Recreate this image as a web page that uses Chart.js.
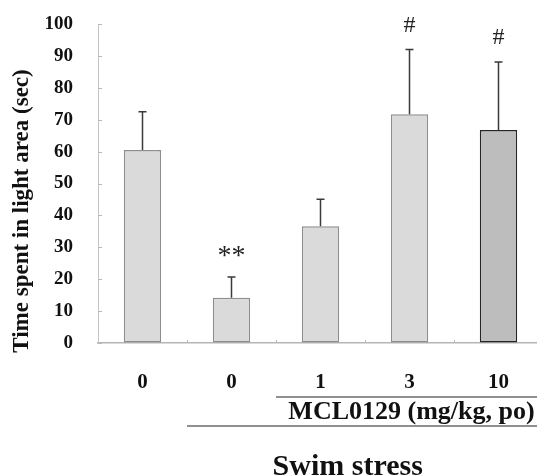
<!DOCTYPE html>
<html>
<head>
<meta charset="utf-8">
<script src="https://cdn.jsdelivr.net/npm/chart.js@4/dist/chart.umd.min.js"></script>
<style>
  html, body { margin: 0; padding: 0; background: #fff; overflow: hidden; }
  #wrap { width: 537px; height: 476px; overflow: hidden; }
</style>
</head>
<body>
<div id="wrap"><canvas id="lightChart" width="543" height="476"></canvas></div>
<script>
// Data
const doseLabels = ['0', '0', '1', '3', '10'];
const meanTime = [60.5, 14.2, 36.6, 71.7, 66.8];
const semTime = [12.0, 6.5, 8.5, 20.3, 21.3];
const sigMarks = ['', '**', '', '#', '#'];
const yTickValues = [0, 10, 20, 30, 40, 50, 60, 70, 80, 90, 100];

const yTitle = 'Time spent in light area (sec)';
const drugLabel = 'MCL0129 (mg/kg, po)';
const stressLabel = 'Swim stress';

const SERIF = "'Liberation Serif', 'Times New Roman', serif";

// error bars, significance marks, inner ticks, group lines
const extrasPlugin = {
  id: 'extras',
  afterDatasetsDraw(chart) {
    const ctx = chart.ctx;
    const x = chart.scales.x;
    const y = chart.scales.y;
    const area = chart.chartArea;
    ctx.save();

    // inner tick marks on y axis
    ctx.strokeStyle = '#b8b8b8';
    ctx.lineWidth = 1;
    yTickValues.forEach(v => {
      const py = Math.round(y.getPixelForValue(v)) + 0.5;
      ctx.beginPath();
      ctx.moveTo(area.left, py);
      ctx.lineTo(area.left + 4, py);
      ctx.stroke();
    });
    // small ticks between categories on x axis
    for (let i = 1; i < doseLabels.length; i++) {
      const px = Math.round((x.getPixelForValue(i - 1) + x.getPixelForValue(i)) / 2) + 0.5;
      ctx.beginPath();
      ctx.moveTo(px, area.bottom);
      ctx.lineTo(px, area.bottom - 3);
      ctx.stroke();
    }

    // error bars (upper only)
    ctx.strokeStyle = '#3a3a3a';
    ctx.lineWidth = 1.5;
    meanTime.forEach((m, i) => {
      const px = x.getPixelForValue(i);
      const top = y.getPixelForValue(m + semTime[i]);
      const base = y.getPixelForValue(m);
      ctx.beginPath();
      ctx.moveTo(px, base);
      ctx.lineTo(px, top);
      ctx.moveTo(px - 4, top);
      ctx.lineTo(px + 4, top);
      ctx.stroke();
    });

    // significance marks
    ctx.fillStyle = '#222';
    ctx.textAlign = 'center';
    ctx.textBaseline = 'alphabetic';
    sigMarks.forEach((s, i) => {
      if (!s) return;
      ctx.font = (s === '#' ? '24px ' : '28px ') + SERIF;
      const mt = ctx.measureText(s);
      const px = x.getPixelForValue(i);
      const centerY = y.getPixelForValue(meanTime[i] + semTime[i]) - 25;
      const base = centerY + (mt.actualBoundingBoxAscent - mt.actualBoundingBoxDescent) / 2;
      ctx.fillText(s, px, base);
    });

    // group lines and labels under the axis
    const b01 = (x.getPixelForValue(0) + x.getPixelForValue(1)) / 2;
    const b12 = (x.getPixelForValue(1) + x.getPixelForValue(2)) / 2;
    ctx.strokeStyle = '#222';
    ctx.lineWidth = 1.2;
    ctx.beginPath();
    ctx.moveTo(b12, 397);
    ctx.lineTo(chart.width, 397);
    ctx.moveTo(b01, 426);
    ctx.lineTo(chart.width, 426);
    ctx.stroke();

    ctx.fillStyle = '#111';
    ctx.font = 'bold 26px ' + SERIF;
    ctx.fillText(drugLabel, (b12 + chart.width) / 2 + 2, 419);
    ctx.font = 'bold 30px ' + SERIF;
    ctx.fillText(stressLabel, (b01 + x.getPixelForValue(doseLabels.length - 1)) / 2 + 5, 475);

    // y title
    ctx.font = 'bold 23px ' + SERIF;
    ctx.textBaseline = 'middle';
    ctx.translate(22, 211);
    ctx.rotate(-Math.PI / 2);
    ctx.fillText(yTitle, 0, 0);
    ctx.restore();
  }
};

new Chart(document.getElementById('lightChart'), {
  type: 'bar',
  data: {
    labels: doseLabels,
    datasets: [{
      data: meanTime,
      backgroundColor: ['#dadada', '#dadada', '#dadada', '#dadada', '#bdbdbd'],
      borderColor: ['#8e8e8e', '#8e8e8e', '#8e8e8e', '#8e8e8e', '#262626'],
      borderWidth: 1.5,
      borderSkipped: false,
      barPercentage: 0.42,
      categoryPercentage: 1.0
    }]
  },
  options: {
    responsive: false,
    animation: false,
    layout: { padding: { top: 24, right: 0, left: 0, bottom: 0 } },
    plugins: {
      legend: { display: false },
      tooltip: { enabled: false }
    },
    scales: {
      x: {
        grid: { display: false, drawTicks: false },
        border: { display: true, color: '#b5b5b5', width: 1.5 },
        ticks: {
          padding: 27,
          color: '#111',
          font: { family: SERIF, size: 21, weight: 'bold' }
        },
        afterFit(scale) { scale.height = 133; }
      },
      y: {
        min: 0,
        max: 100,
        // invisible tick marks push the labels away from the axis
        grid: { display: true, drawOnChartArea: false, drawTicks: true, tickLength: 22, color: 'rgba(0,0,0,0)' },
        border: { display: true, color: '#c4c4c4', width: 1 },
        afterBuildTicks(scale) { scale.ticks = yTickValues.map(v => ({ value: v })); },
        ticks: {
          padding: 3,
          color: '#111',
          font: { family: SERIF, size: 19, weight: 'bold' }
        },
        afterFit(scale) { scale.width = 98; }
      }
    }
  },
  plugins: [extrasPlugin]
});
</script>
</body>
</html>
